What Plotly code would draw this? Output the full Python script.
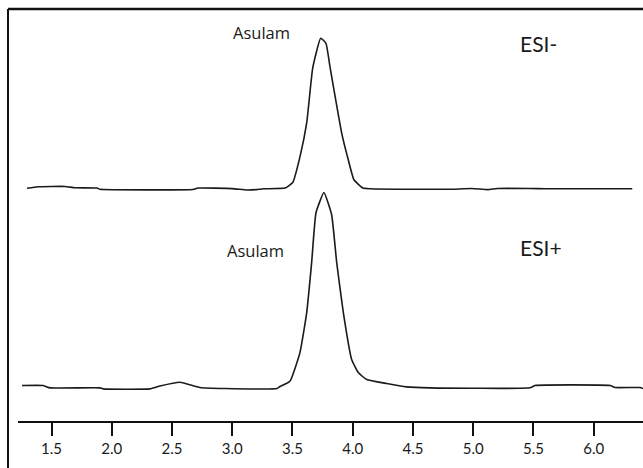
import plotly.graph_objects as go

# Retention time (min) and detector response for the ESI- channel
esi_neg_rt = [1.297, 1.388, 1.612, 1.695, 1.878, 1.902, 2.674, 2.716, 3.00, 3.12, 3.20, 3.26,
              3.438, 3.502, 3.562, 3.618, 3.668, 3.734, 3.778, 3.811, 3.908, 3.963, 4.010,
              4.085, 4.143, 4.50, 4.807, 4.99, 5.122, 5.20, 5.471, 5.60, 6.32]
esi_neg_signal = [0.5, 2, 2.3, 1, 0.7, -0.5, -0.7, 0.7, 0.2, -1.2, -0.8, 0,
                  0.7, 6.3, 32, 66, 121, 150.7, 145.7, 122.3, 56, 29, 9,
                  0.7, 0, -0.5, -0.5, 0.3, -0.8, 0.3, 0.3, 0, 0]

# Retention time (min) and detector response for the ESI+ channel
esi_pos_rt = [1.255, 1.429, 1.488, 1.902, 1.927, 2.317, 2.400, 2.566, 2.732, 2.940, 3.371,
              3.396, 3.479, 3.562, 3.618, 3.659, 3.695, 3.761, 3.825, 3.867, 3.922, 3.991,
              4.046, 4.116, 4.282, 4.448, 4.641, 5.471, 5.513, 6.135, 6.176, 6.384, 6.409]
esi_pos_signal = [2, 2, -0.3, -0.3, -1.3, -1.3, 1.5, 5.3, 0, -1, -1,
                  1, 6.3, 35, 75, 125, 175, 195.3, 173, 125, 75, 28,
                  15, 8, 4, 0.7, -0.3, -0.3, 2, 2, 0, 0, -1]

tick_values = [1.5, 2.0, 2.5, 3.0, 3.5, 4.0, 4.5, 5.0, 5.5, 6.0]
tick_labels = ["1.5", "2.0", "2.5", "3.0", "3.5", "4.0", "4.5", "5.0", "5.5", "6.0"]

# Vertical stacking of the two chromatograms
NEG_OFFSET = 232.5
POS_OFFSET = 33.5

line_style = dict(color="#1a1a1a", width=1.6, shape="spline", smoothing=0.4)

fig = go.Figure()
fig.add_trace(go.Scatter(x=esi_neg_rt, y=[v + NEG_OFFSET for v in esi_neg_signal],
                         mode="lines", line=line_style, name="ESI-", showlegend=False))
fig.add_trace(go.Scatter(x=esi_pos_rt, y=[v + POS_OFFSET for v in esi_pos_signal],
                         mode="lines", line=line_style, name="ESI+", showlegend=False))

label_font = dict(family="Open Sans, DejaVu Sans, sans-serif", size=16.5, color="#1a1a1a")
mode_font = dict(family="Lato, sans-serif", size=21, color="#1a1a1a")

annotations = [
    dict(x=3.239, y=389, text="Asulam", font=label_font, xanchor="center", yanchor="middle"),
    dict(x=3.189, y=170.5, text="Asulam", font=label_font, xanchor="center", yanchor="middle"),
    dict(x=5.371, y=377.5, text="ESI-", font=mode_font, xanchor="left", yanchor="middle"),
    dict(x=5.371, y=174, text="ESI+", font=mode_font, xanchor="left", yanchor="middle"),
]
for a in annotations:
    a.update(xref="x", yref="y", showarrow=False)

# Outer frame: left and top rules
shapes = [
    dict(type="line", xref="paper", yref="paper", x0=-0.016, x1=-0.016, y0=-0.12, y1=1.0,
         line=dict(color="#111111", width=2)),
    dict(type="line", xref="paper", yref="paper", x0=-0.016, x1=1.0, y0=1.0, y1=1.0,
         line=dict(color="#111111", width=2.5)),
]

fig.update_layout(
    width=643, height=468,
    margin=dict(l=18, r=0, t=9, b=47),
    paper_bgcolor="white", plot_bgcolor="white",
    annotations=annotations, shapes=shapes,
    xaxis=dict(range=[1.222, 6.409], tickvals=tick_values, ticktext=tick_labels,
               showline=True, linecolor="#111111", linewidth=2,
               ticks="outside", ticklen=13, tickwidth=1.6, tickcolor="#111111",
               showgrid=False, zeroline=False,
               tickfont=dict(family="Lato, sans-serif", size=15, color="#1a1a1a")),
    yaxis=dict(range=[0, 412.5], visible=False, showgrid=False, zeroline=False),
)

fig.write_html("out.html")
